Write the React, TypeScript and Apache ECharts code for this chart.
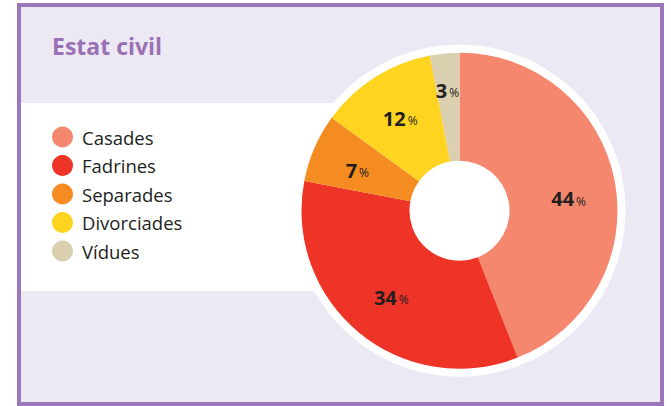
import React, { useEffect, useRef } from "react";
import * as echarts from "echarts";

const title = "Estat civil";
const categories = ["Casades", "Fadrines", "Separades", "Divorciades", "Vídues"];
const values = [44, 34, 7, 12, 3];
const colors = ["#f5876e", "#ee3427", "#f58c21", "#ffd421", "#dacfaf"];
const labelOffsets: number[][] = [[4, 8], [0, 4], [-4, 2], [-2, -2], [-2, -14]];

export default function App() {
  const ref = useRef<HTMLDivElement>(null);
  useEffect(() => {
    document.body.style.margin = "0";
    const chart = echarts.init(ref.current!, null, { renderer: "svg" });
    const cx = 459.5;
    const cy = 210.7;
    chart.setOption({
      animation: false,
      backgroundColor: "#ffffff",
      title: {
        text: title,
        left: 52,
        top: 34,
        padding: 0,
        textStyle: { color: "#9a71b5", fontSize: 23, fontWeight: "bold", fontFamily: "Open Sans" },
      },
      legend: {
        orient: "vertical",
        left: 52,
        top: 126.5,
        padding: 0,
        icon: "circle",
        itemWidth: 21,
        itemHeight: 21,
        itemGap: 7.5,
        selectedMode: false,
        data: categories,
        textStyle: { color: "#231f20", fontSize: 18.5, fontFamily: "Open Sans", padding: [0, 0, 0, 4] },
      },
      graphic: [
        {
          type: "rect",
          z: -10,
          shape: { x: 19, y: 5, width: 643, height: 399 },
          style: { fill: "#ece8f4", stroke: "#9b77b9", lineWidth: 4 },
        },
        {
          type: "rect",
          z: -9,
          shape: { x: 21, y: 103, width: 320, height: 188 },
          style: { fill: "#ffffff" },
        },
        {
          type: "circle",
          z: -8,
          shape: { cx, cy, r: 166 },
          style: { fill: "#ffffff" },
        },
      ],
      series: [
        {
          type: "pie",
          center: [cx, cy],
          radius: [50, 158],
          startAngle: 90,
          clockwise: true,
          silent: true,
          emphasis: { disabled: true },
          data: categories.map((name, i) => ({
            name,
            value: values[i],
            itemStyle: { color: colors[i] },
            label: { offset: labelOffsets[i] },
          })),
          label: {
            position: "inside",
            formatter: (p: any) => `{v|${p.value}}{p|%}`,
            rich: {
              v: { fontSize: 20, fontWeight: "bold", color: "#231f20", fontFamily: "Open Sans" },
              p: { fontSize: 12, color: "#231f20", fontFamily: "Open Sans", padding: [5, 0, 0, 2] },
            },
          },
          labelLine: { show: false },
        },
      ],
    });
    return () => chart.dispose();
  }, []);
  return <div ref={ref} style={{ width: 671, height: 406 }} />;
}
